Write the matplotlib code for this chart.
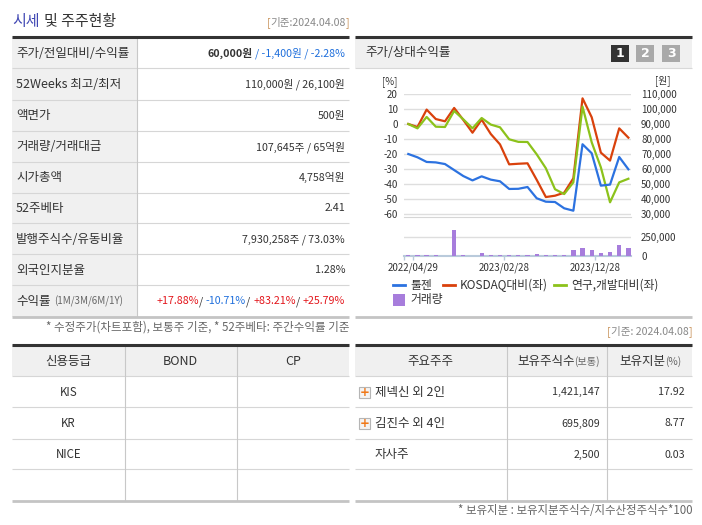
import matplotlib
matplotlib.use('Agg')
import matplotlib.pyplot as plt
from matplotlib.patches import Rectangle
from matplotlib.ticker import FuncFormatter
import numpy as np

plt.rcParams['font.family'] = ['Noto Sans CJK KR', 'DejaVu Sans']

# ---- data ----
price = [70200, 68000, 64900, 64600, 63500, 59500, 55500, 52600, 55300, 53100,
         52000, 46900, 47000, 48200, 40700, 38400, 38200, 34000, 32400, 76700,
         70700, 49100, 49800, 68200, 60000]
kosdaq_rel = [0.2, -1.8, 9.8, 3.5, 2.0, 10.9, 2.9, -5.6, 3.1, -6.5,
              -13.4, -26.7, -26.3, -26.0, -37.0, -48.5, -47.6, -45.6, -36.0, 17.3,
              4.7, -18.9, -24.2, -2.7, -8.9]
rnd_rel = [0.2, -2.7, 4.9, -1.6, -1.8, 8.9, 3.3, -2.7, 4.2, -0.2,
           -2.0, -10.0, -11.7, -11.8, -20.0, -29.3, -43.3, -46.5, -38.7, 11.8,
           -12.0, -28.7, -52.0, -38.7, -36.3]
volume = [9000, 9000, 9000, 9000, 2000, 350000, 9000, 2000, 36000, 9000,
          9000, 9000, 9000, 9000, 23000, 9000, 9000, 9000, 77000, 105000,
          77000, 36000, 50000, 145000, 105000]
date_labels = ['2022/04/29', '2023/02/28', '2023/12/28']
date_pos = [0.55, 10.47, 20.4]
pct_ticks = [20, 10, 0, -10, -20, -30, -40, -50, -60]
won_ticks = [110000, 100000, 90000, 80000, 70000, 60000, 50000, 40000, 30000]

info_labels = ['주가/전일대비/수익률', '52Weeks 최고/최저', '액면가', '거래량/거래대금',
               '시가총액', '52주베타', '발행주식수/유동비율', '외국인지분율', '수익률']
info_values = [None, '110,000원 / 26,100원', '500원', '107,645주 / 65억원',
               '4,758억원', '2.41', '7,930,258주 / 73.03%', '1.28%', None]
cur_price = '60,000원'
day_change = '-1,400원'
day_rate = '-2.28%'
returns = ['+17.88%', '-10.71%', '+83.21%', '+25.79%']

credit_header = ['신용등급', 'BOND', 'CP']
credit_rows = ['KIS', 'KR', 'NICE', '']

holders = ['제넥신 외 2인', '김진수 외 4인', '자사주']
holder_shares = ['1,421,147', '695,809', '2,500']
holder_pct = ['17.92', '8.77', '0.03']
holder_expand = [True, True, False]

W, H = 702, 525
fig = plt.figure(figsize=(7.02, 5.25), dpi=100)
bg = fig.add_axes([0, 0, 1, 1])
bg.set_xlim(0, W)
bg.set_ylim(H, 0)
bg.axis('off')
renderer = fig.canvas.get_renderer()

DARK = '#333333'
BLUE_T = '#1f6fdc'
RED_T = '#e3161c'
GRID = '#d6d6d6'
LBL = 9.0   # label font size
VAL = 7.7   # number font size


def px_axes(x0, y0, x1, y1):
    return fig.add_axes([x0 / W, 1 - y1 / H, (x1 - x0) / W, (y1 - y0) / H])


def rich(x, y, pieces, ha='left'):
    # pieces: (text, color, size, weight, gap_before)
    texts = []
    cur = x
    for s, col, size, weight, gap in pieces:
        cur += gap
        t = bg.text(cur, y, s, color=col, fontsize=size, fontweight=weight,
                    ha='left', va='center')
        cur += t.get_window_extent(renderer).width
        texts.append(t)
    total = cur - x
    shift = {'left': 0, 'right': -total, 'center': -total / 2}[ha]
    for t in texts:
        px, py = t.get_position()
        t.set_position((px + shift, py))


def hline(y, x0, x1, color=GRID, lw=0.8):
    bg.plot([x0, x1], [y, y], color=color, lw=lw, solid_capstyle='butt')


def vline(x, y0, y1, color=GRID, lw=0.8):
    bg.plot([x, x], [y0, y1], color=color, lw=lw, solid_capstyle='butt')


# ---- left header ----
rich(12, 22, [('시세', '#3f46b3', 10.8, 'normal', 0),
              ('및 주주현황', DARK, 10.8, 'normal', 4)])
rich(349, 23, [('[', '#c8925a', 7.6, 'normal', 0),
               ('기준:2024.04.08', '#888888', 7.6, 'normal', 0),
               (']', '#c8925a', 7.6, 'normal', 0)], ha='right')

row_edges = [37, 68.3, 99.5, 130.7, 162, 192.5, 223.3, 254.3, 285.3, 316.7]
bg.add_patch(Rectangle((12, 37), 125, 316.7 - 37, color='#f0f0f0', lw=0))
for i, lab in enumerate(info_labels):
    yc = (row_edges[i] + row_edges[i + 1]) / 2 + 0.5
    if i == len(info_labels) - 1:
        rich(16, yc, [(lab, DARK, LBL, 'normal', 0),
                      ('(1M/3M/6M/1Y)', '#666666', 7.0, 'normal', 4)])
    else:
        bg.text(16, yc, lab, fontsize=LBL, color=DARK, va='center', ha='left')
    val = info_values[i]
    if i == 0:
        rich(345, yc, [(cur_price, DARK, VAL, 'bold', 0),
                       ('/ ' + day_change + ' / ' + day_rate, BLUE_T, VAL, 'normal', 3)],
             ha='right')
    elif i == len(info_labels) - 1:
        pieces = []
        for k, r in enumerate(returns):
            col = RED_T if r.startswith('+') else BLUE_T
            pieces.append((r, col, VAL, 'normal', 0 if k == 0 else 3))
            if k < len(returns) - 1:
                pieces.append(('/', DARK, VAL, 'normal', 0))
        rich(345, yc, pieces, ha='right')
    else:
        bg.text(345, yc, val, fontsize=VAL, color=DARK, va='center', ha='right')
for yy in row_edges[1:-1]:
    hline(yy, 12, 349)
vline(137, 37, 316.7, color='#c8c8c8')
hline(36.5, 12, 349, color=DARK, lw=2.2)
hline(316.7, 12, 349, color='#c4c4c4', lw=2)
bg.text(349, 327.5, '* 수정주가(차트포함), 보통주 기준, * 52주베타: 주간수익률 기준',
        fontsize=8.3, color='#666666', ha='right', va='center')

# ---- credit table ----
c_edges = [345, 376, 407.3, 438.7, 469.3, 500.7]
c_cols = [12, 124.7, 236.7, 349]
bg.add_patch(Rectangle((12, 345), 337, 31, color='#f0f0f0', lw=0))
for j, h in enumerate(credit_header):
    bg.text((c_cols[j] + c_cols[j + 1]) / 2, 361.5, h, fontsize=LBL, color=DARK,
            ha='center', va='center')
for i, r in enumerate(credit_rows):
    yc = (c_edges[i + 1] + c_edges[i + 2]) / 2 + 0.5
    bg.text((c_cols[0] + c_cols[1]) / 2, yc, r, fontsize=8.3, color=DARK,
            ha='center', va='center')
for yy in c_edges[1:-1]:
    hline(yy, 12, 349)
for xx in c_cols[1:-1]:
    vline(xx, 345, 500.7, color='#c8c8c8')
hline(345, 12, 349, color=DARK, lw=2.2)
hline(500.7, 12, 349, color='#c4c4c4', lw=2)

# ---- chart panel header ----
bg.add_patch(Rectangle((355, 37), 337, 31.3, color='#f0f0f0', lw=0))
hline(36.5, 355, 692, color=DARK, lw=2.2)
hline(68.3, 355, 692, color='#d8d8d8')
bg.text(365, 53, '주가/상대수익률', fontsize=9.0, color=DARK, ha='left', va='center')
for k, (bx, col) in enumerate([(611, '#333333'), (636.3, '#a9a9a9'), (662, '#a9a9a9')]):
    bg.add_patch(Rectangle((bx, 45), 18, 16.7, color=col, lw=0))
    bg.text(bx + 9, 53.5, str(k + 1), fontsize=9, fontweight='bold', color='white',
            ha='center', va='center', family='DejaVu Sans')

# ---- line chart ----
n = len(price)
x = np.arange(n)
step = 9.17
xl = (-(408.3 - 404.3) / step, (631 - 408.3) / step)
ylo = -61.7
ax = px_axes(404.3, 94.3, 631, 124.3 + 61.7 * 1.5)
ax.set_xlim(*xl)
ax.set_ylim(ylo, 20)
ax.set_yticks(pct_ticks)
ax.set_yticklabels([str(t) for t in pct_ticks])
ax.tick_params(axis='y', length=0, pad=4.6, labelsize=7, labelcolor=DARK)
ax.set_xticks([])
for s in ['top', 'left', 'right']:
    ax.spines[s].set_visible(False)
ax.spines['bottom'].set_color('#d6d6d6')
ax.grid(axis='y', color='#dedede', lw=1)
ax.set_facecolor('none')
l_red, = ax.plot(x, kosdaq_rel, color='#d9410c', lw=1.6, zorder=3)
l_green, = ax.plot(x, rnd_rel, color='#8cc21b', lw=1.6, zorder=3)

ax2 = ax.twinx()
ax2.set_ylim(90000 + ylo * 1000, 110000)
ax2.set_yticks(won_ticks)
ax2.yaxis.set_major_formatter(FuncFormatter(lambda v, p: f'{int(v):,}'))
ax2.tick_params(axis='y', length=0, pad=7.2, labelsize=7, labelcolor=DARK)
for s in ['top', 'left', 'right', 'bottom']:
    ax2.spines[s].set_visible(False)
l_blue, = ax2.plot(x, price, color='#2c72e0', lw=1.6, zorder=4)

bg.text(397, 81.5, '[%]', fontsize=7, color=DARK, ha='right', va='center')
bg.text(670, 80.5, '[원]', fontsize=7, color=DARK, ha='right', va='center')

# ---- volume ----
vtop = 370000
vax = px_axes(404.3, 255.7 - vtop * 18.4 / 250000, 631, 255.7)
vax.bar(x, volume, width=0.47, color='#a77ddc', zorder=3)
vax.set_xlim(*xl)
vax.set_ylim(0, vtop)
vax.yaxis.tick_right()
vax.set_yticks([0, 250000])
vax.yaxis.set_major_formatter(FuncFormatter(lambda v, p: f'{int(v):,}'))
vax.tick_params(axis='y', length=0, pad=7.2, labelsize=7, labelcolor=DARK)
vax.grid(axis='y', color='#dedede', lw=1)
vax.set_axisbelow(True)
vax.set_xticks([xl[0]] + date_pos)
vax.set_xticklabels([''] + date_labels)
vax.tick_params(axis='x', length=3, width=1, color='#b9cadb', pad=2,
                labelsize=7, labelcolor=DARK)
for s in ['top', 'left', 'right']:
    vax.spines[s].set_visible(False)
vax.spines['bottom'].set_color('#b9cadb')
vax.spines['bottom'].set_linewidth(1.5)
vax.set_facecolor('none')

# ---- legend ----
ly = 285
for x0, col, lab in [(393, '#2c72e0', '툴젠'), (442.5, '#d9410c', 'KOSDAQ대비(좌)'),
                     (554, '#8cc21b', '연구,개발대비(좌)')]:
    bg.plot([x0, x0 + 12], [ly, ly], color=col, lw=2)
    bg.text(x0 + 17, ly, lab, fontsize=8.5, color=DARK, ha='left', va='center')
bg.add_patch(Rectangle((393, 293.5), 12, 12, color='#a77ddc', lw=0))
bg.text(410, 299.5, '거래량', fontsize=8.5, color=DARK, ha='left', va='center')
hline(316.7, 355, 692, color='#c4c4c4', lw=2)

# ---- shareholders table ----
rich(692, 331.7, [('[', '#c8925a', 7.6, 'normal', 0),
                  ('기준: 2024.04.08', '#888888', 7.6, 'normal', 0),
                  (']', '#c8925a', 7.6, 'normal', 0)], ha='right')
s_cols = [355, 506.7, 607.3, 692]
bg.add_patch(Rectangle((355, 345), 337, 31, color='#f0f0f0', lw=0))
bg.text((s_cols[0] + s_cols[1]) / 2, 361.5, '주요주주', fontsize=LBL, color=DARK,
        ha='center', va='center')
rich(558.5, 361.5, [('보유주식수', DARK, LBL, 'normal', 0),
                    ('(보통)', '#666666', 7.3, 'normal', 0)], ha='center')
rich(650.5, 361.5, [('보유지분', DARK, LBL, 'normal', 0),
                    ('(%)', '#666666', 7.3, 'normal', 0)], ha='center')
for i, name in enumerate(holders):
    yc = (c_edges[i + 1] + c_edges[i + 2]) / 2 + 0.5
    if holder_expand[i]:
        bg.add_patch(Rectangle((359, yc - 5.5), 10.5, 11, facecolor='#f4f4f4',
                               edgecolor='#b5b5b5', lw=0.8))
        bg.text(364.3, yc, '+', fontsize=8.5, fontweight='bold', color='#f07818',
                ha='center', va='center', family='DejaVu Sans')
    bg.text(375, yc, name, fontsize=LBL, color=DARK, ha='left', va='center')
    bg.text(600, yc, holder_shares[i], fontsize=VAL, color=DARK, ha='right', va='center')
    bg.text(685, yc, holder_pct[i], fontsize=VAL, color=DARK, ha='right', va='center')
for yy in c_edges[1:-1]:
    hline(yy, 355, 692)
for xx in s_cols[1:-1]:
    vline(xx, 345, 500.7, color='#c8c8c8')
hline(345, 355, 692, color=DARK, lw=2.2)
hline(500.7, 355, 692, color='#c4c4c4', lw=2)
bg.text(692, 511, '* 보유지분 : 보유지분주식수/지수산정주식수*100', fontsize=8.25,
        color='#666666', ha='right', va='center')

fig.savefig('out.png', dpi=100)
